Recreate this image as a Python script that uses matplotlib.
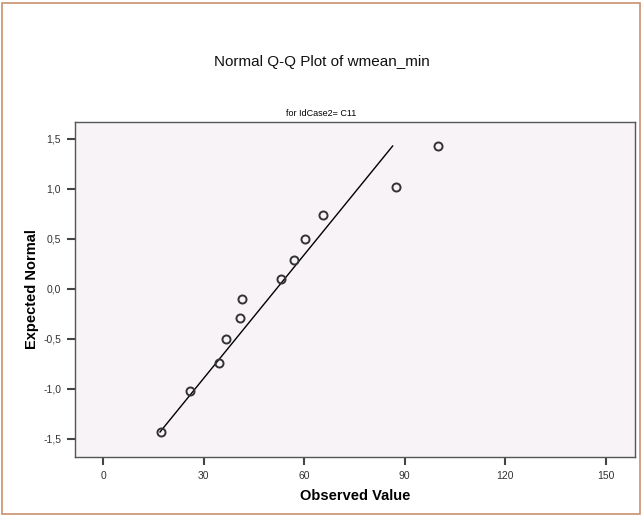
import numpy as np
import matplotlib.pyplot as plt
from matplotlib.patches import Rectangle
from matplotlib.ticker import FuncFormatter

plt.rcParams['font.family'] = ['Liberation Sans', 'DejaVu Sans']

observed = [17.3, 25.9, 34.6, 36.7, 40.9, 41.5, 53.1, 57.0, 60.2, 65.6, 87.4, 99.9]
expected = [-1.43, -1.02, -0.74, -0.50, -0.29, -0.10, 0.10, 0.29, 0.50, 0.74, 1.02, 1.43]
x_ticks = [0, 30, 60, 90, 120, 150]
y_ticks = [-1.5, -1.0, -0.5, 0.0, 0.5, 1.0, 1.5]

obs = np.array(observed)
mu, sd = obs.mean(), obs.std(ddof=1)
line_y = np.array([min(expected), max(expected)])
line_x = mu + sd * line_y

fig = plt.figure(figsize=(6.43, 5.18), dpi=100)
fig.patches.append(Rectangle((2 / 643, 4 / 518), 638 / 643, 511 / 518,
                             transform=fig.transFigure, fill=False,
                             edgecolor='#c9906f', linewidth=1.2))

ax = fig.add_axes([75 / 643, 61 / 518, 560 / 643, 335 / 518])
ax.set_facecolor('#f7f3f7')
ax.plot(line_x, line_y, color='black', linewidth=1.0, zorder=2)
ax.plot(observed, expected, 'o', markersize=5.8, markerfacecolor='none',
        markeredgecolor='#333333', markeredgewidth=1.4, zorder=3)

ax.set_xlim(-8.4, 158.7)
ax.set_ylim(-1.68, 1.67)
ax.set_xticks(x_ticks)
ax.set_yticks(y_ticks)
ax.yaxis.set_major_formatter(FuncFormatter(lambda v, p: f'{v:.1f}'.replace('.', ',')))
ax.tick_params(direction='out', length=6, width=1.5, colors='#444444',
               labelsize=7.5, labelcolor='#333333', pad=4)
for s in ax.spines.values():
    s.set_color('#555555')
    s.set_linewidth(1.0)

ax.set_xlabel('Observed Value', fontsize=10.5, fontweight='bold', labelpad=6)
ax.set_ylabel('Expected Normal', fontsize=10.5, fontweight='bold', labelpad=3)

fig.text(0.5, 1 - 62 / 518, 'Normal Q-Q Plot of wmean_min', ha='center',
         va='center', fontsize=11, color='#111111')
fig.text(0.5, 1 - 113 / 518, 'for IdCase2= C11', ha='center', va='center',
         fontsize=6.5)

fig.savefig('out.png', dpi=100)
